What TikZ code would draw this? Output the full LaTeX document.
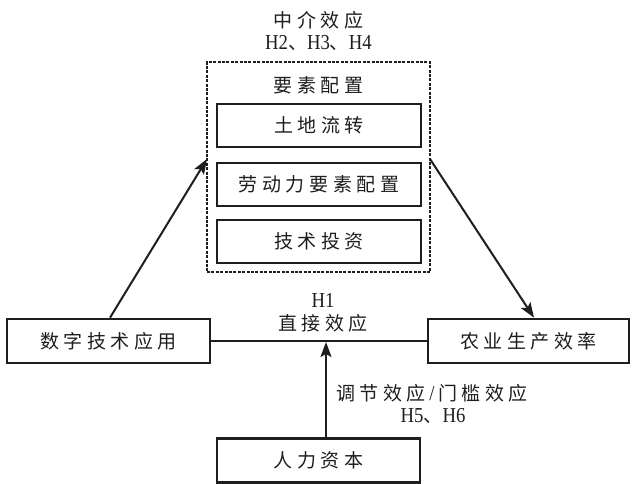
\documentclass[tikz,border=0pt]{standalone}
\usepackage{fontspec}
\setmainfont{Noto Sans CJK SC}[LetterSpace=24]
\newfontfamily\lat{Liberation Serif}[Scale=1.12, FakeStretch=0.88]
\usetikzlibrary{arrows.meta,calc}
\definecolor{ink}{HTML}{1E1E1E}
\tikzset{
  box/.style={draw=ink, line width=2.6pt, inner sep=0pt, minimum width=203pt, minimum height=44pt, font=\fontsize{19}{22}\selectfont, text=ink},
  innerbox/.style={box, minimum width=204pt, minimum height=43pt},
  dashbox/.style={draw=ink, line width=1.8pt, dash pattern=on 3pt off 1.4pt, inner sep=0pt, minimum width=223pt, minimum height=210pt},
  lbl/.style={font=\fontsize{19}{22}\selectfont, text=ink, inner sep=0pt, align=center},
  conn/.style={draw=ink, line width=2pt},
  arr/.style={conn, -{Stealth[length=15pt,width=11pt,inset=3pt]}}
}
\begin{document}
\begin{tikzpicture}[x=1pt,y=-1pt]
\useasboundingbox[fill=white] (0,0) rectangle (633,483);
% main boxes
\node[box] (L) at (108.5,341) {数字技术应用};
\node[box, minimum width=201pt] (R) at (528.5,341) {农业生产效率};
\node[box] (B) at (318.5,460.5) {人力资本};
% mediation frame
\node[dashbox] (D) at (318.5,167) {};
\node[lbl] (title) at (318.5,85) {要素配置};
\node[innerbox] (I1) at (319,125.5) {土地流转};
\node[innerbox] (I2) at (319,184.5) {劳动力要素配置};
\node[innerbox] (I3) at (319,241.5) {技术投资};
% labels
\node[lbl] (med) at (318.5,20) {中介效应};
\node[lbl] (medh) at (318.5,43) {{\lat H2}、{\lat H3}、{\lat H4}};
\node[lbl] (h1) at (323,300) {\lat H1};
\node[lbl] (dir) at (323,323) {直接效应};
\node[lbl] (mod) at (432,393) {调节效应{\lat\,/\,}门槛效应};
\node[lbl] (modh) at (433,416) {{\lat H5}、{\lat H6}};
% connector endpoints
\coordinate (da) at (207,159);
\coordinate (db) at (430,159);
\coordinate (rn) at ($(R.north)+(5.5,0)$);
\coordinate (hm) at (326,342);
% connectors
\draw[conn] (L.east) -- (R.west);
\draw[arr] ($(L.north)+(1.5,0)$) -- (da);
\draw[arr] (db) -- (rn);
\draw[arr] (B.north -| hm) -- (hm);
\end{tikzpicture}
\end{document}
